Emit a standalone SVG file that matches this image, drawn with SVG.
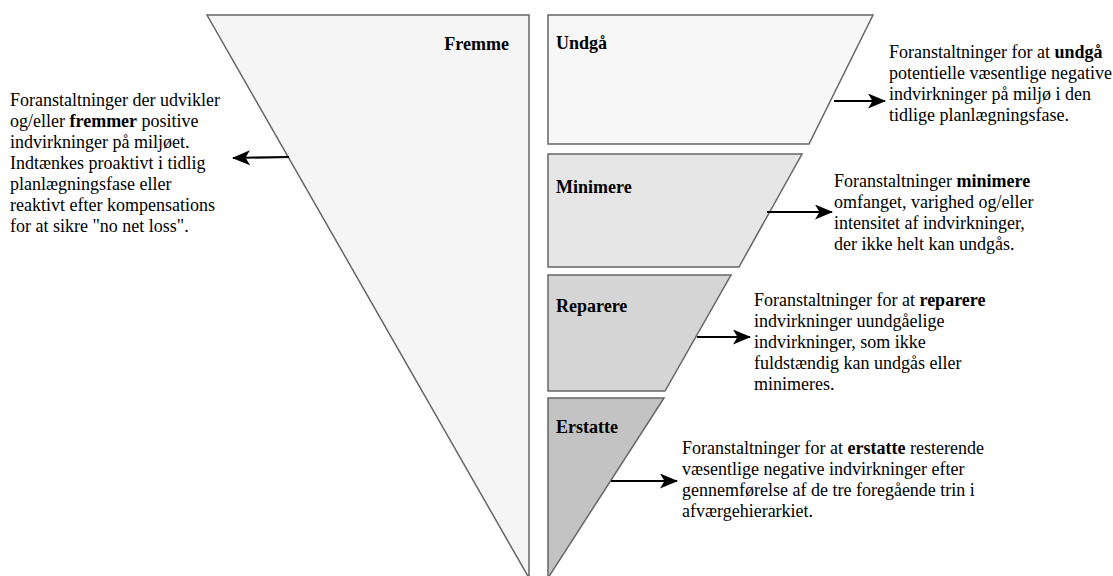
<svg xmlns="http://www.w3.org/2000/svg" width="1113" height="576" viewBox="0 0 1113 576">
  <style>
    .shape { stroke: #666666; stroke-width: 1.5; stroke-linejoin: miter; }
    .label { font-family: "Liberation Serif", "Times New Roman", serif; font-size: 18px; font-weight: bold; fill: #000000; }
    .body { font-family: "Liberation Serif", "Times New Roman", serif; font-size: 18px; fill: #000000; }
    .body tspan.b { font-weight: bold; }
    .conn { stroke: #000000; stroke-width: 2; fill: none; }
  </style>
  <defs>
    <marker id="arrow" viewBox="0 0 18 15" refX="17" refY="7.5" markerWidth="18" markerHeight="15" markerUnits="userSpaceOnUse" orient="auto">
      <path d="M0,0 L18,7.5 L0,15 L4.5,7.5 Z" fill="#000000"/>
    </marker>
  </defs>

  <rect width="1113" height="576" fill="#ffffff"/>

  <!-- Promote: left inverted triangle -->
  <g id="fremme">
    <polygon class="shape" points="207,15 529,15 529,578" fill="#f5f5f5"/>
    <text class="label" x="509" y="50" text-anchor="end">Fremme</text>
  </g>

  <!-- Mitigation hierarchy steps -->
  <g id="undgaa">
    <polygon class="shape" points="548,15 873,15 809,144 548,144" fill="#f7f7f7"/>
    <text class="label" x="556" y="49">Undgå</text>
  </g>
  <g id="minimere">
    <polygon class="shape" points="548,154 802,154 739,267 548,267" fill="#e6e6e6"/>
    <text class="label" x="556" y="193">Minimere</text>
  </g>
  <g id="reparere">
    <polygon class="shape" points="548,275 731,275 665,391 548,391" fill="#d5d5d5"/>
    <text class="label" x="556" y="312">Reparere</text>
  </g>
  <g id="erstatte">
    <polygon class="shape" points="548,398 664,398 548,578" fill="#c3c3c3"/>
    <text class="label" x="556" y="433">Erstatte</text>
  </g>

  <!-- Description texts -->
  <g id="text-fremme">
    <text class="body">
      <tspan x="10" y="106">Foranstaltninger der udvikler</tspan>
      <tspan x="10" y="127">og/eller <tspan class="b">fremmer</tspan> positive</tspan>
      <tspan x="10" y="148">indvirkninger på miljøet.</tspan>
      <tspan x="10" y="169">Indtænkes proaktivt i tidlig</tspan>
      <tspan x="10" y="190">planlægningsfase eller</tspan>
      <tspan x="10" y="211">reaktivt efter kompensations</tspan>
      <tspan x="10" y="232">for at sikre "no net loss".</tspan>
    </text>
  </g>
  <g id="text-undgaa">
    <text class="body">
      <tspan x="889" y="57.5">Foranstaltninger for at <tspan class="b">undgå</tspan></tspan>
      <tspan x="889" y="78.5">potentielle væsentlige negative</tspan>
      <tspan x="889" y="99.5">indvirkninger på miljø i den</tspan>
      <tspan x="889" y="120.5">tidlige planlægningsfase.</tspan>
    </text>
  </g>
  <g id="text-minimere">
    <text class="body">
      <tspan x="834" y="187">Foranstaltninger <tspan class="b">minimere</tspan></tspan>
      <tspan x="834" y="208">omfanget, varighed og/eller</tspan>
      <tspan x="834" y="229">intensitet af indvirkninger,</tspan>
      <tspan x="834" y="250">der ikke helt kan undgås.</tspan>
    </text>
  </g>
  <g id="text-reparere">
    <text class="body">
      <tspan x="754" y="306">Foranstaltninger for at <tspan class="b">reparere</tspan></tspan>
      <tspan x="754" y="327">indvirkninger uundgåelige</tspan>
      <tspan x="754" y="348">indvirkninger, som ikke</tspan>
      <tspan x="754" y="369">fuldstændig kan undgås eller</tspan>
      <tspan x="754" y="390">minimeres.</tspan>
    </text>
  </g>
  <g id="text-erstatte">
    <text class="body">
      <tspan x="682" y="454">Foranstaltninger for at <tspan class="b">erstatte</tspan> resterende</tspan>
      <tspan x="682" y="475">væsentlige negative indvirkninger efter</tspan>
      <tspan x="682" y="496">gennemførelse af de tre foregående trin i</tspan>
      <tspan x="682" y="517">afværgehierarkiet.</tspan>
    </text>
  </g>

  <!-- Connectors -->
  <g id="connectors">
    <line class="conn" x1="289" y1="157" x2="233" y2="158" marker-end="url(#arrow)"/>
    <line class="conn" x1="834" y1="101" x2="885" y2="101" marker-end="url(#arrow)"/>
    <line class="conn" x1="767" y1="212" x2="832" y2="212" marker-end="url(#arrow)"/>
    <line class="conn" x1="697" y1="337" x2="750" y2="337" marker-end="url(#arrow)"/>
    <line class="conn" x1="611" y1="481" x2="677" y2="481" marker-end="url(#arrow)"/>
  </g>
</svg>
